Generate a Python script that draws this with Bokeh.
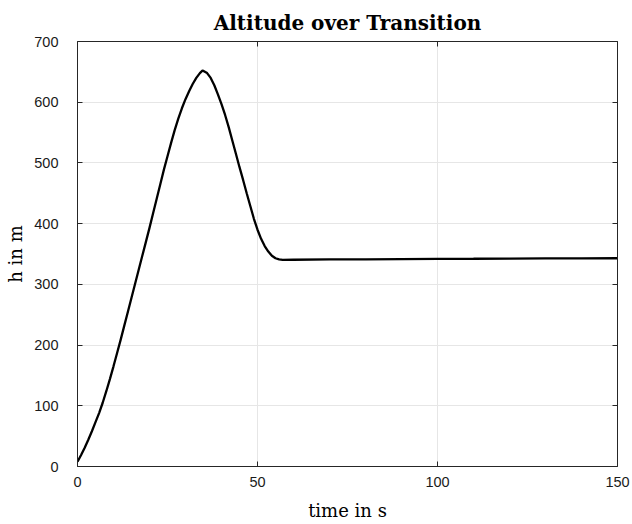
from bokeh.plotting import figure
from bokeh.models import Range1d, LinearAxis, FixedTicker
from bokeh.embed import file_html
from bokeh.resources import INLINE

# Altitude h over the transition (time in s)
time_s = [0, 1, 2, 3, 4, 5, 6, 7, 8, 9,
          10, 11, 12, 13, 14, 15, 16, 17, 18, 19,
          20, 21, 22, 23, 24, 25, 26, 27, 28, 29,
          30, 31, 32, 33, 34, 34.7, 35, 36, 37, 38, 39,
          40, 41, 42, 43, 44, 45, 46, 47, 48, 49,
          50, 51, 52, 53, 54, 55, 56, 57, 60,
          70, 80, 90, 100, 110, 120, 130, 140, 150]
altitude_m = [8, 19, 31, 44, 58, 73, 88, 105, 124, 144,
              165, 187, 209, 232, 255, 278, 301, 324, 347, 370,
              393, 417, 441, 465, 489, 511, 533, 554, 573, 590,
              605, 618, 630, 640, 648, 652, 651.5, 648, 640, 628, 613,
              597, 579, 559, 537, 515, 493, 472, 450, 429, 408,
              390, 375, 363, 354, 347, 343, 341, 340.3, 340.5,
              341, 341.3, 341.6, 342, 342.2, 342.5, 342.7, 342.9, 343]

x_ticks = [0, 50, 100, 150]
y_ticks = [0, 100, 200, 300, 400, 500, 600, 700]

title_text = "Altitude over Transition"
x_label_text = "time in s"
y_label_text = "h in m"

AXIS_COLOR = "#262626"
GRID_COLOR = "#e6e6e6"
TICK_FONT = "Liberation Sans"
LABEL_FONT = "DejaVu Serif"

p = figure(width=632, height=524, output_backend="svg", toolbar_location=None,
           x_range=Range1d(0, 150), y_range=Range1d(0, 700),
           min_border_left=77, min_border_right=15,
           min_border_top=41, min_border_bottom=58,
           background_fill_color="white", border_fill_color="white")
p.outline_line_color = None
p.xaxis.visible = False
p.yaxis.visible = False

p.title.text = title_text
p.title.text_font = LABEL_FONT
p.title.text_font_style = "bold"
p.title.text_font_size = "20px"
p.title.text_color = "black"
p.title.align = "center"
p.title.standoff = 13


def style_axis(ax, ticks, show_labels):
    ax.ticker = FixedTicker(ticks=ticks)
    ax.axis_line_color = AXIS_COLOR
    ax.axis_line_width = 1
    ax.major_tick_line_color = AXIS_COLOR
    ax.major_tick_in = 5
    ax.major_tick_out = 0
    ax.minor_tick_line_color = None
    ax.major_label_text_font = TICK_FONT
    ax.major_label_text_color = "#1a1a1a"
    ax.axis_label_text_font = LABEL_FONT
    ax.axis_label_text_font_style = "normal"
    ax.axis_label_text_font_size = "18px"
    ax.axis_label_text_color = "black"
    if show_labels:
        ax.major_label_text_font_size = "14.5px"
    else:
        ax.major_label_text_font_size = "0px"
        ax.major_label_text_alpha = 0
        ax.major_label_standoff = 0


bottom = LinearAxis(axis_label=x_label_text)
style_axis(bottom, x_ticks, True)
bottom.major_label_standoff = 10
bottom.axis_label_standoff = 10
p.add_layout(bottom, "below")

left = LinearAxis(axis_label=y_label_text)
style_axis(left, y_ticks, True)
left.major_label_standoff = 19
left.axis_label_standoff = 5
p.add_layout(left, "left")

top = LinearAxis()
style_axis(top, x_ticks, False)
p.add_layout(top, "above")

right = LinearAxis()
style_axis(right, y_ticks, False)
p.add_layout(right, "right")

p.xgrid.ticker = FixedTicker(ticks=x_ticks)
p.ygrid.ticker = FixedTicker(ticks=y_ticks)
p.grid.grid_line_color = GRID_COLOR
p.grid.grid_line_width = 1

p.line(time_s, altitude_m, line_color="black", line_width=2.3)

open("out.html", "w").write(file_html(p, INLINE))
